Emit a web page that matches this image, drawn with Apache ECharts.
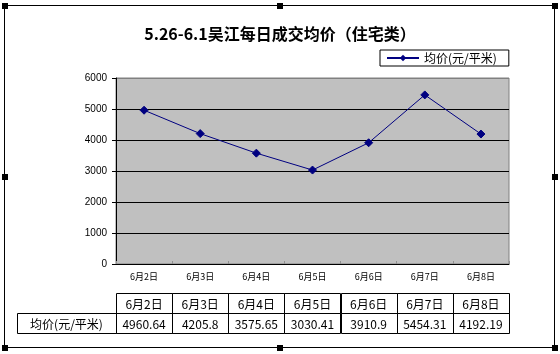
<!DOCTYPE html>
<html><head><meta charset="utf-8">
<script src="https://cdn.jsdelivr.net/npm/echarts@6/dist/echarts.min.js"></script>
<style>html,body{margin:0;padding:0;background:#fff}#c{width:560px;height:354px}</style>
</head><body><div id="c"></div>
<script>
var titleText = '5.26-6.1吴江每日成交均价（住宅类）';
var seriesName = '均价(元/平米)';
var categories = ['6月2日','6月3日','6月4日','6月5日','6月6日','6月7日','6月8日'];
var values = [4960.64, 4205.8, 3575.65, 3030.41, 3910.9, 5454.31, 4192.19];
var valueLabels = ['4960.64','4205.8','3575.65','3030.41','3910.9','5454.31','4192.19'];
var yMin = 0, yMax = 6000, yStep = 1000;

var CJK = '"Noto Sans CJK SC", sans-serif';
var chart = echarts.init(document.getElementById('c'), null, {renderer: 'canvas'});
var option = {
  animation: false,
  backgroundColor: '#fff',
  title: {
    text: titleText, left: 'center', top: 21,
    textStyle: {fontFamily: CJK, fontSize: 16, fontWeight: 'bold', color: '#000'}
  },
  legend: {
    data: [seriesName], left: 380, top: 50,
    borderColor: '#000', borderWidth: 1, borderRadius: 0,
    padding: [2, 12, 2, 6], itemWidth: 32, itemHeight: 8, itemGap: 5,
    textStyle: {fontFamily: CJK, fontSize: 12, color: '#000'}
  },
  grid: {
    left: 116, right: 51, top: 78, bottom: 90,
    show: true, backgroundColor: '#c0c0c0', borderColor: '#808080', borderWidth: 1
  },
  xAxis: {
    type: 'category', data: categories, boundaryGap: true,
    axisLine: {show: true, lineStyle: {color: '#000', width: 1}},
    axisTick: {show: true, inside: true, length: 3, lineStyle: {color: '#909090'}},
    axisLabel: {margin: 8, fontSize: 9, color: '#000', fontFamily: CJK}
  },
  yAxis: {
    type: 'value', min: yMin, max: yMax, interval: yStep,
    axisLine: {show: true, lineStyle: {color: '#000', width: 1}},
    axisTick: {show: true, length: 4, lineStyle: {color: '#000'}},
    axisLabel: {margin: 9, fontSize: 10, color: '#000', fontFamily: 'Liberation Sans, Arial, sans-serif',
      formatter: function(v){ return String(v); }},
    splitLine: {show: true, lineStyle: {color: ['#000','#000','#000','#000','#000','#000','#808080'], width: 1}}
  },
  series: [{
    name: seriesName, type: 'line', data: values,
    symbol: 'diamond', symbolSize: 8,
    lineStyle: {color: '#000080', width: 1},
    itemStyle: {color: '#000080', borderColor: '#000080'}
  }]
};
chart.setOption(option);

// Build table and frame from axis positions
var centers = categories.map(function(c, i){ return chart.convertToPixel({xAxisIndex: 0}, i); });
var step = centers.length > 1 ? centers[1] - centers[0] : 56;
var left0 = centers[0] - step / 2;
var right0 = centers[centers.length - 1] + step / 2;
var row1Top = 293, rowH = 20, labelLeft = 17;
var g = [];
var stroke = {stroke: '#000', lineWidth: 1, fill: null};
categories.forEach(function(c, i){
  var x0 = Math.round(centers[i] - step / 2) + 0.5;
  g.push({type: 'rect', shape: {x: x0, y: row1Top + 0.5, width: Math.round(step), height: rowH}, style: stroke, silent: true});
  g.push({type: 'text', x: centers[i], y: row1Top + rowH / 2 + 1, style: {text: c, fill: '#000', font: '12px ' + CJK, align: 'center', verticalAlign: 'middle'}, silent: true});
  g.push({type: 'rect', shape: {x: x0, y: row1Top + rowH + 0.5, width: Math.round(step), height: rowH}, style: stroke, silent: true});
  g.push({type: 'text', x: centers[i], y: row1Top + rowH * 1.5 + 1, style: {text: valueLabels[i], fill: '#000', font: '12px ' + CJK, align: 'center', verticalAlign: 'middle'}, silent: true});
});
g.push({type: 'rect', shape: {x: labelLeft + 0.5, y: row1Top + rowH + 0.5, width: Math.round(left0) - labelLeft, height: rowH}, style: stroke, silent: true});
g.push({type: 'text', x: (labelLeft + left0) / 2, y: row1Top + rowH * 1.5 + 1, style: {text: seriesName, fill: '#000', font: '12px ' + CJK, align: 'center', verticalAlign: 'middle'}, silent: true});
var fx0 = 4.5, fy0 = 5.5, fx1 = 554.5, fy1 = 347.5;
g.push({type: 'rect', shape: {x: fx0, y: fy0, width: fx1 - fx0, height: fy1 - fy0}, style: stroke, silent: true});
var hs = 6;
[[fx0, fy0], [(fx0 + fx1) / 2, fy0], [fx1, fy0], [fx0, (fy0 + fy1) / 2], [fx1, (fy0 + fy1) / 2], [fx0, fy1], [(fx0 + fx1) / 2, fy1], [fx1, fy1]].forEach(function(p){
  g.push({type: 'rect', shape: {x: Math.round(p[0] - hs / 2), y: Math.round(p[1] - hs / 2), width: hs, height: hs}, style: {fill: '#000'}, silent: true});
});
chart.setOption({graphic: g});
</script>
</body></html>
